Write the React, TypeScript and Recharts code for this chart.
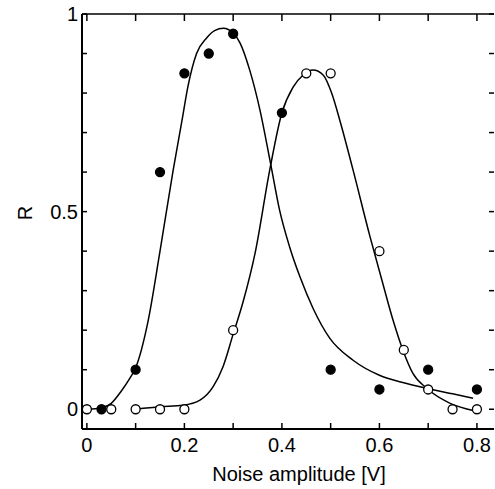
import React from "react";
import { ComposedChart, Line, Scatter, XAxis, YAxis } from "recharts";

// measured points (filled = first set, open = second set)
const filledX = [0.03, 0.1, 0.15, 0.2, 0.25, 0.3, 0.4, 0.5, 0.6, 0.7, 0.8];
const filledR = [0, 0.1, 0.6, 0.85, 0.9, 0.95, 0.75, 0.1, 0.05, 0.1, 0.05];
const openX = [0, 0.05, 0.1, 0.15, 0.2, 0.3, 0.45, 0.5, 0.6, 0.65, 0.7, 0.75, 0.8];
const openR = [0, 0, 0, 0, 0, 0.2, 0.85, 0.85, 0.4, 0.15, 0.05, 0, 0];

// fitted curves
const fitFilledX = [0, 0.03, 0.05, 0.07, 0.088, 0.1, 0.125, 0.15, 0.177, 0.195, 0.207, 0.225, 0.246, 0.262, 0.28, 0.3, 0.314, 0.334, 0.355, 0.377, 0.395, 0.416, 0.437, 0.464, 0.498, 0.546, 0.6, 0.65, 0.697, 0.75, 0.792];
const fitFilledR = [0, 0.004, 0.015, 0.045, 0.078, 0.105, 0.22, 0.4, 0.605, 0.73, 0.815, 0.9, 0.94, 0.958, 0.964, 0.952, 0.927, 0.858, 0.757, 0.62, 0.505, 0.41, 0.335, 0.255, 0.18, 0.124, 0.086, 0.067, 0.053, 0.039, 0.028];
const fitOpenX = [0.1, 0.15, 0.197, 0.232, 0.259, 0.279, 0.3, 0.32, 0.345, 0.375, 0.4, 0.423, 0.443, 0.464, 0.485, 0.502, 0.519, 0.546, 0.58, 0.605, 0.628, 0.648, 0.669, 0.697, 0.745, 0.792];
const fitOpenR = [0, 0.006, 0.01, 0.023, 0.057, 0.107, 0.19, 0.27, 0.395, 0.605, 0.75, 0.815, 0.845, 0.858, 0.845, 0.8, 0.73, 0.605, 0.44, 0.327, 0.225, 0.15, 0.09, 0.053, 0.015, -0.003];

const xTicks = [0, 0.1, 0.2, 0.3, 0.4, 0.5, 0.6, 0.7, 0.8];
const xLabels: Record<string, string> = { "0": "0", "0.2": "0.2", "0.4": "0.4", "0.6": "0.6", "0.8": "0.8" };
const yTicks = [0, 0.1, 0.2, 0.3, 0.4, 0.5, 0.6, 0.7, 0.8, 0.9, 1];
const yLabels: Record<string, string> = { "0": "0", "0.5": "0.5", "1": "1" };

const zip = (xs: number[], ys: number[]) => xs.map((x, i) => ({ x, y: ys[i] }));
const filled = zip(filledX, filledR);
const open = zip(openX, openR);
const fitFilled = zip(fitFilledX, fitFilledR);
const fitOpen = zip(fitOpenX, fitOpenR);

const FONT = "'Liberation Sans', Arial, Helvetica, sans-serif";
const tickText = { fontSize: 20, fontFamily: FONT, fill: "#000" };
const tickLine = { stroke: "#000", strokeWidth: 1.5 };

const Dot = (fill: string) => (p: any) => (
  <circle cx={p.cx} cy={p.cy} r={4.5} fill={fill} stroke="#000" strokeWidth={1.3} />
);

export default function App() {
  return (
    <div style={{ position: "absolute", left: 0, top: 0, width: 495, height: 489, background: "#fff", overflow: "hidden" }}>
      <ComposedChart width={495} height={489} margin={{ top: 13, right: 0, bottom: 0, left: 0 }}>
        <XAxis xAxisId="b" type="number" dataKey="x" domain={[-0.01, 0.835]} allowDataOverflow ticks={xTicks} interval={0}
          height={60} tickSize={-6} tickMargin={15} tickLine={tickLine} tick={tickText}
          tickFormatter={(v: number) => xLabels[String(v)] ?? ""}
          axisLine={{ stroke: "#000", strokeWidth: 2 }} />
        <XAxis xAxisId="t" orientation="top" type="number" dataKey="x" domain={[-0.01, 0.835]} allowDataOverflow ticks={xTicks} interval={0}
          height={1} tickSize={-7} tickMargin={0} tickLine={tickLine} tickFormatter={() => ""}
          axisLine={{ stroke: "#000", strokeWidth: 1.5 }} />
        <YAxis yAxisId="l" type="number" domain={[-0.05, 1]} allowDataOverflow ticks={yTicks} interval={0}
          width={82} tickSize={-5} tickMargin={9} tickLine={tickLine} tick={tickText}
          tickFormatter={(v: number) => yLabels[String(v)] ?? ""}
          axisLine={{ stroke: "#000", strokeWidth: 2 }} />
        <YAxis yAxisId="r" orientation="right" type="number" domain={[-0.05, 1]} allowDataOverflow ticks={yTicks} interval={0}
          width={1} tickSize={-5} tickMargin={0} tickLine={tickLine} tickFormatter={() => ""}
          axisLine={false} />
        <Line xAxisId="b" yAxisId="l" data={fitFilled} dataKey="y" type="monotone" dot={false} stroke="#000" strokeWidth={1.5} isAnimationActive={false} />
        <Line xAxisId="b" yAxisId="l" data={fitOpen} dataKey="y" type="monotone" dot={false} stroke="#000" strokeWidth={1.5} isAnimationActive={false} />
        <Scatter xAxisId="b" yAxisId="l" data={open} dataKey="y" shape={Dot("#fff")} isAnimationActive={false} />
        <Scatter xAxisId="b" yAxisId="l" data={filled} dataKey="y" shape={Dot("#000")} isAnimationActive={false} />
      </ComposedChart>
      <svg width={495} height={489} style={{ position: "absolute", left: 0, top: 0, pointerEvents: "none" }}>
        <text x={299} y={481} textAnchor="middle" fontSize={20} fontFamily={FONT} fill="#000">
          Noise amplitude [V]
        </text>
        <text transform="translate(32,213) rotate(-90)" textAnchor="middle" fontSize={20} fontFamily={FONT} fill="#000">
          R
        </text>
      </svg>
    </div>
  );
}
